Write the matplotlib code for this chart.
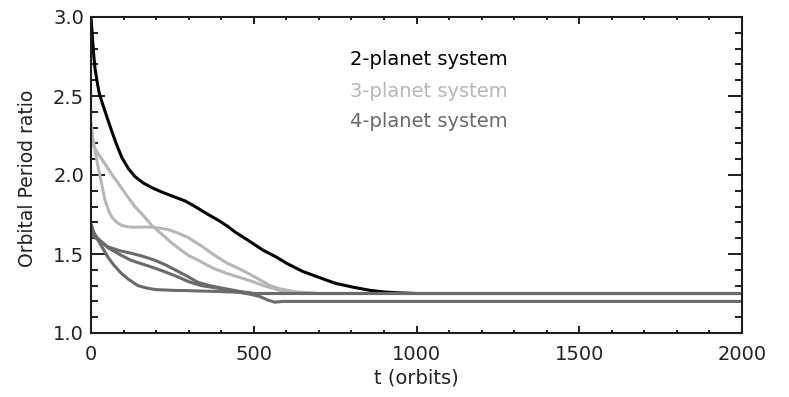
import matplotlib
matplotlib.use('Agg')
import matplotlib.pyplot as plt
from matplotlib.ticker import MultipleLocator, FormatStrFormatter

# ---------------------------------------------------------------------------
# Data: orbital period ratio vs time (orbits)
# ---------------------------------------------------------------------------

# 2-planet system (one ratio)
t_2p = [0, 4, 8, 12, 18, 25, 34, 50, 65, 80, 95, 115, 135, 160, 187, 220, 258,
        290, 320, 360, 390, 420, 442, 480, 528, 570, 602, 650, 703, 750, 805,
        857, 900, 940, 1000, 2000]
r_2p = [3.0, 2.88, 2.77, 2.68, 2.60, 2.52, 2.46, 2.36, 2.27, 2.185, 2.11, 2.04,
        1.99, 1.95, 1.92, 1.89, 1.86, 1.835, 1.80, 1.75, 1.715, 1.675, 1.64,
        1.59, 1.525, 1.48, 1.44, 1.39, 1.35, 1.315, 1.29, 1.27, 1.26, 1.255,
        1.25, 1.25]

# 3-planet system (two ratios)
t_3p_a = [0, 5, 12, 20, 28, 43, 55, 65, 80, 95, 120, 190, 237, 270, 298, 340,
          381, 420, 452, 490, 520, 550, 580, 630, 700, 2000]
r_3p_a = [2.33, 2.24, 2.16, 2.07, 1.99, 1.84, 1.77, 1.73, 1.70, 1.68, 1.67,
          1.67, 1.655, 1.63, 1.605, 1.55, 1.49, 1.44, 1.41, 1.37, 1.335, 1.30,
          1.28, 1.26, 1.25, 1.25]
t_3p_b = [0, 20, 43, 65, 83, 110, 135, 160, 187, 215, 245, 273, 300, 330, 375,
          420, 452, 490, 530, 580, 630, 700, 2000]
r_3p_b = [2.21, 2.14, 2.07, 2.00, 1.95, 1.87, 1.80, 1.745, 1.68, 1.63, 1.575,
          1.53, 1.49, 1.46, 1.41, 1.375, 1.355, 1.33, 1.30, 1.27, 1.255, 1.25,
          1.25]

# 4-planet system (three ratios)
t_4p_a = [0, 10, 25, 52, 90, 123, 160, 197, 230, 258, 295, 329, 365, 400, 452,
          500, 2000]
r_4p_a = [1.69, 1.63, 1.585, 1.545, 1.52, 1.505, 1.485, 1.46, 1.43, 1.40, 1.36,
          1.32, 1.30, 1.285, 1.265, 1.25, 1.25]
t_4p_b = [0, 15, 52, 90, 123, 160, 197, 230, 267, 300, 338, 370, 400, 452, 490,
          520, 545, 565, 590, 2000]
r_4p_b = [1.66, 1.61, 1.54, 1.495, 1.46, 1.435, 1.41, 1.385, 1.355, 1.325,
          1.30, 1.29, 1.28, 1.26, 1.245, 1.23, 1.207, 1.195, 1.20, 1.20]
t_4p_c = [0, 8, 21, 35, 52, 70, 92, 115, 144, 170, 197, 250, 300, 350, 400,
          452, 500, 2000]
r_4p_c = [1.64, 1.61, 1.59, 1.54, 1.48, 1.43, 1.38, 1.34, 1.30, 1.285, 1.275,
          1.27, 1.268, 1.265, 1.262, 1.258, 1.25, 1.25]

labels = ['2-planet system', '3-planet system', '4-planet system']

COLOR_2P = '#000000'
COLOR_3P = '#b6b6b6'
COLOR_4P = '#6a6a6a'
AXIS_COLOR = '#1e1e1e'

plt.rcParams.update({
    'font.family': 'DejaVu Sans',
    'font.size': 14,
})

fig = plt.figure(figsize=(7.89, 3.97), dpi=100)
ax = fig.add_axes([91 / 789, 64 / 397, 651 / 789, 316 / 397])

lw = 2.2
series = [
    (t_2p, r_2p, COLOR_2P),
    (t_3p_a, r_3p_a, COLOR_3P),
    (t_3p_b, r_3p_b, COLOR_3P),
    (t_4p_a, r_4p_a, COLOR_4P),
    (t_4p_b, r_4p_b, COLOR_4P),
    (t_4p_c, r_4p_c, COLOR_4P),
]
for t, r, col in series:
    ax.plot(t, r, color=col, lw=lw, solid_joinstyle='round',
            solid_capstyle='round')

ax.set_xlim(0, 2000)
ax.set_ylim(1.0, 3.0)

ax.xaxis.set_major_locator(MultipleLocator(500))
ax.xaxis.set_minor_locator(MultipleLocator(100))
ax.yaxis.set_major_locator(MultipleLocator(0.5))
ax.yaxis.set_minor_locator(MultipleLocator(0.1))
ax.yaxis.set_major_formatter(FormatStrFormatter('%.1f'))

# IDL-style inward ticks on all four sides
ax.tick_params(which='both', direction='in', top=True, right=True,
               color=AXIS_COLOR, width=1.4, labelcolor='#222222')
ax.tick_params(axis='y', which='major', length=10, pad=5)
ax.tick_params(axis='y', which='minor', length=5)
ax.tick_params(axis='x', which='major', length=4.8, pad=9)
ax.tick_params(axis='x', which='minor', length=2.4)

for sp in ax.spines.values():
    sp.set_color(AXIS_COLOR)
    sp.set_linewidth(1.5)

ax.set_xlabel('t (orbits)', fontsize=14, color='#222222')
ax.set_ylabel('Orbital Period ratio', fontsize=13.5, color='#222222')
ax.xaxis.set_label_coords(0.5, -0.142)
ax.xaxis.label.set_va('center')
ax.yaxis.set_label_coords(-0.097, 0.49)
ax.yaxis.label.set_va('center')

# Text legend
for lab, col, y in zip(labels, [COLOR_2P, COLOR_3P, COLOR_4P], [0.848, 0.747, 0.652]):
    ax.text(0.398, y, lab, color=col, fontsize=14, transform=ax.transAxes,
            ha='left', va='baseline')

fig.savefig('out.png', dpi=100, facecolor='white')
plt.close(fig)
